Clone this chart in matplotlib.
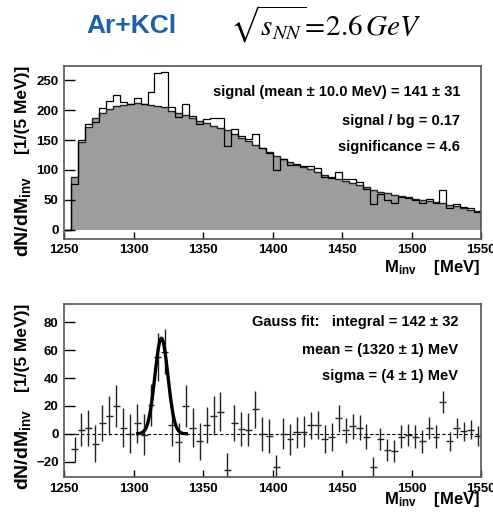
import numpy as np
import matplotlib
matplotlib.use("Agg")
import matplotlib.pyplot as plt

plt.rcParams['font.family'] = ['Liberation Sans', 'DejaVu Sans']
plt.rcParams['mathtext.fontset'] = 'custom'
plt.rcParams['mathtext.rm'] = 'Liberation Sans:bold'
plt.rcParams['mathtext.it'] = 'Liberation Sans:bold'
plt.rcParams['mathtext.bf'] = 'Liberation Sans:bold'

# 5 MeV bins, 1250-1550 MeV
edges = np.arange(1250, 1551, 5)
centers = edges[:-1] + 2.5

# mixed-event background (top panel, gray)
bg = np.array([0, 88, 147, 172, 187, 195, 202, 206, 209, 211,
               212, 211, 209, 207, 205, 199, 195, 191, 186, 182,
               178, 174, 170, 166, 160, 154, 148, 142, 136, 130,
               124, 118, 113, 109, 105, 101, 97, 92, 88, 85,
               82, 79, 75, 71, 67, 64, 61, 58, 56, 54,
               52, 50, 48, 46, 44, 42, 39, 36, 33, 31])

# background-subtracted signal (bottom panel), first bin empty
sub = np.array([0, -11, 3, 4, -7, 8, 13, 20, 4.5, 0,
                7.5, -0.5, 20.5, 55, 59, 6.5, -6, 20, 4.5, -5.5,
                6.5, 13, 16, -26, 8, 3.5, 3, 17.5, 0, -1.5,
                -24, 0, -4, 1, 1.5, 6, 6.5, -4, -2, 11,
                2.5, 5.5, 4.5, -2, -23.5, -3.5, -11.5, -12.5, -2, -1,
                -2, -5.5, 4, -2, 23, -5.5, 4, 1.7, 3, -1.5])
err = np.array([0, 9, 12, 13, 13, 13, 14, 15, 14, 14,
                14, 15, 15, 17, 16, 15, 14, 15, 14, 13,
                13, 14, 14, 12, 13, 12, 12, 13, 12, 12,
                9, 11, 11, 11, 11, 10, 10, 10, 10, 10,
                9, 9, 9, 9, 7, 8, 8, 8, 8, 8,
                8, 8, 8, 8, 8, 7, 7, 7, 7, 7])

data = bg + sub

# gauss fit curve as drawn
g_amp, g_mean, g_sigma = 68.5, 1320.0, 4.7
g_range = (1303, 1338)

fig = plt.figure(figsize=(4.93, 5.18), dpi=100)
ax1 = fig.add_axes([0.130, 0.539, 0.846, 0.334])
ax2 = fig.add_axes([0.130, 0.079, 0.846, 0.334])

# ---- top panel
ax1.stairs(bg, edges, fill=True, color='#9d9d9d', lw=0)
ax1.stairs(bg, edges, color='#222222', lw=1.0)
ax1.stairs(data, edges, color='black', lw=0.9)
ax1.set_xlim(1250, 1550)
ax1.set_ylim(-15, 274)
ax1.set_yticks([0, 50, 100, 150, 200, 250])

kw = dict(ha='right', va='center', fontsize=10.5, fontweight='bold')
ax1.text(0.95, 0.850, 'signal (mean ± 10.0 MeV) = 141 ± 31', transform=ax1.transAxes, **kw)
ax1.text(0.95, 0.682, 'signal / bg = 0.17', transform=ax1.transAxes, **kw)
ax1.text(0.95, 0.532, 'significance = 4.6', transform=ax1.transAxes, **kw)

# ---- bottom panel
sel = centers > 1255
ax2.axhline(0, color='black', lw=0.8, ls=(0, (3, 2)))
ax2.errorbar(centers[sel], sub[sel], yerr=err[sel], xerr=2.5, fmt='none',
             ecolor='#222222', elinewidth=1.0, capsize=0)
xg = np.linspace(g_range[0], g_range[1], 200)
ax2.plot(xg, g_amp * np.exp(-0.5 * ((xg - g_mean) / g_sigma) ** 2), color='black', lw=2.4)
ax2.set_xlim(1250, 1550)
ax2.set_ylim(-31, 93)
ax2.set_yticks([-20, 0, 20, 40, 60, 80])

ax2.text(0.945, 0.896, 'Gauss fit:   integral = 142 ± 32', transform=ax2.transAxes, **kw)
ax2.text(0.945, 0.734, 'mean = (1320 ± 1) MeV', transform=ax2.transAxes, **kw)
ax2.text(0.945, 0.584, 'sigma = (4 ± 1) MeV', transform=ax2.transAxes, **kw)

for ax in (ax1, ax2):
    ax.set_xticks([1250, 1300, 1350, 1400, 1450, 1500, 1550])
    ax.tick_params(axis='y', direction='in', length=8, width=1, labelsize=9.5, pad=4)
    ax.tick_params(axis='x', direction='in', length=5, width=1, labelsize=9.5, pad=4)
    for lab in ax.get_xticklabels() + ax.get_yticklabels():
        lab.set_fontweight('bold')
    for s in ax.spines.values():
        s.set_color('#555555')
        s.set_linewidth(1.2)

# axis titles, ROOT style (unit part at top, quantity further down)
for top, bottom in ((66, 257), (304, 490)):
    fig.text(23 / 493, 1 - top / 518, '[1/(5 MeV)]', rotation=90, ha='center',
             va='top', fontsize=12.5, fontweight='bold')
    fig.text(23 / 493, 1 - bottom / 518, 'dN/dM$_{inv}$', rotation=90, ha='center',
             va='bottom', fontsize=14, fontweight='bold')
xlab = 'M$_{inv}$    [MeV]'
fig.text(480 / 493, 1 - 272 / 518, xlab, ha='right', va='baseline', fontsize=12,
         fontweight='bold')
fig.text(480 / 493, 1 - 504 / 518, xlab, ha='right', va='baseline', fontsize=12,
         fontweight='bold')

# header
fig.text(86 / 493, 1 - 33 / 518, 'Ar+KCl', color='#1f5fa6', fontsize=19,
         fontweight='bold', ha='left', va='baseline')
fig.text(230 / 493, 1 - 35 / 518, r'$\sqrt{s_{NN}}\!=\!2.6\,GeV$', math_fontfamily='stix',
         fontsize=21, ha='left', va='baseline')

fig.savefig('out.png', dpi=100)
